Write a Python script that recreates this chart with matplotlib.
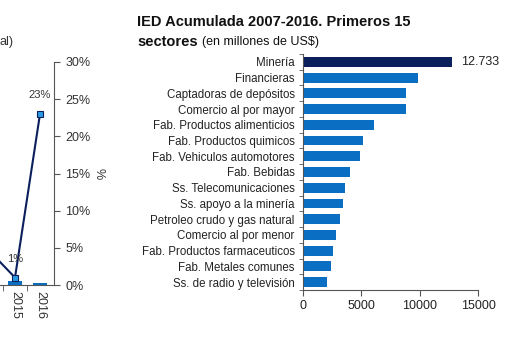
import matplotlib
matplotlib.use('Agg')
import matplotlib.pyplot as plt

plt.rcParams['font.family'] = ['Liberation Sans', 'DejaVu Sans']

# sectores, IED acumulada 2007-2016 (millones de US$)
sectores = ['Minería', 'Financieras', 'Captadoras de depósitos',
            'Comercio al por mayor', 'Fab. Productos alimenticios',
            'Fab. Productos quimicos', 'Fab. Vehiculos automotores',
            'Fab. Bebidas', 'Ss. Telecomunicaciones', 'Ss. apoyo a la minería',
            'Petroleo crudo y gas natural', 'Comercio al por menor',
            'Fab. Productos farmaceuticos', 'Fab. Metales comunes',
            'Ss. de radio y televisión']
ied = [12733, 9820, 8790, 8790, 6050, 5140, 4850, 4030, 3570, 3400,
       3200, 2830, 2600, 2430, 2060]

# grafico parcial de la izquierda
anios = [2014, 2015, 2016]
porcentaje = [4.5, 1, 23]
barras = [0, 0.5, 0.25]
etiquetas = {2015: '1%', 2016: '23%'}

W, H = 512, 341
fig = plt.figure(figsize=(W / 100, H / 100), dpi=100)

AZUL = '#0a6fc2'
NAVY = '#0b1f5c'

# --- grafico izquierdo (cortado) ---
x_right = 2016.56
px_per_year = 25.0
left_px, right_px = -100.0, 54.0
x_left = x_right - (right_px - left_px) / px_per_year
axl = fig.add_axes([left_px / W, 1 - 285 / H, (right_px - left_px) / W, (285 - 62) / H])
axl.bar(anios, barras, width=0.6, color=AZUL)
axl.plot(anios, porcentaje, color=NAVY, lw=1.5, marker='s', ms=5,
         mfc='#2a9be3', mec=NAVY, mew=0.8)
for a, p in zip(anios, porcentaje):
    if a in etiquetas:
        axl.annotate(etiquetas[a], (a, p), xytext=(0, 10), textcoords='offset points',
                     ha='center', va='bottom', fontsize=8, color='#333333')
axl.set_xlim(x_left, x_right)
axl.set_ylim(0, 30)
axl.yaxis.tick_right()
axl.yaxis.set_label_position('right')
axl.set_yticks(range(0, 31, 5))
axl.set_yticklabels([f'{v}%' for v in range(0, 31, 5)], fontsize=9, color='#333333')
axl.set_ylabel('%', fontsize=9, rotation=270, labelpad=10, color='#333333')
axl.set_xticks([2015, 2016])
axl.set_xticklabels(['2015', '2016'], rotation=-90, fontsize=9, color='#333333')
axl.set_xticks([2014.5, 2015.5], minor=True)
axl.tick_params(axis='x', which='major', length=0, pad=4)
axl.tick_params(axis='x', which='minor', length=4, color='#555555')
axl.tick_params(axis='y', length=4, color='#555555', pad=4)
for s in ['top', 'left']:
    axl.spines[s].set_visible(False)
for s in ['right', 'bottom']:
    axl.spines[s].set_color('#555555')
fig.text(0, 1 - 42 / H, 'al)', fontsize=9, va='center', ha='left', color='#333333')

# --- grafico de barras horizontales ---
ax = fig.add_axes([303 / W, 1 - 290 / H, 175 / W, 236 / H])
colores = [NAVY] + [AZUL] * (len(sectores) - 1)
y = list(range(len(sectores)))
ax.barh(y, ied, height=0.63, color=colores)
ax.set_ylim(len(sectores) - 0.5, -0.5)
ax.set_xlim(0, 15000)
ax.set_yticks(y)
ax.set_yticklabels(sectores, fontsize=8.3, color='#222222')
ax.set_yticks([i + 0.5 for i in range(-1, len(sectores))], minor=True)
ax.tick_params(axis='y', which='major', length=0, pad=6)
ax.tick_params(axis='y', which='minor', length=3, color='#555555')
ax.set_xticks([0, 5000, 10000, 15000])
ax.tick_params(axis='x', labelsize=9, length=4, color='#555555', labelcolor='#222222')
for s in ['top', 'right']:
    ax.spines[s].set_visible(False)
for s in ['left', 'bottom']:
    ax.spines[s].set_color('#555555')
ax.text(ied[0] + 800, 0, f'{ied[0]:,}'.replace(',', '.'), va='center', ha='left',
        fontsize=9, color='#222222')

fig.text(137 / W, 1 - 22 / H, 'IED Acumulada 2007-2016. Primeros 15', fontsize=10.5,
         fontweight='bold', va='center', ha='left', color='#111111')
t = fig.text(137 / W, 1 - 42 / H, 'sectores', fontsize=10.5, fontweight='bold',
             va='center', ha='left', color='#111111')
fig.canvas.draw()
bb = t.get_window_extent()
fig.text(bb.x1 / W + 4 / W, 1 - 42 / H, '(en millones de US$)', fontsize=9,
         va='center', ha='left', color='#111111')

fig.savefig('out.png', dpi=100)
